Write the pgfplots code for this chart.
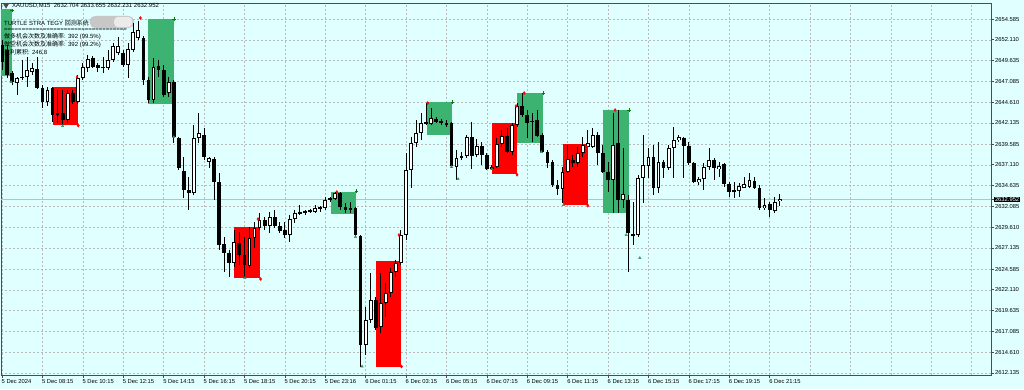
\documentclass[border=0pt]{standalone}
\usepackage{fontspec}
\setmainfont{Liberation Sans}
\newfontfamily\cjk{Noto Sans CJK SC}
\usepackage{pgfplots}
\pgfplotsset{compat=1.18}
\usepackage{pgfplotstable}
\definecolor{bg}{RGB}{224,255,255}
\definecolor{boxgreen}{RGB}{60,179,113}
\definecolor{boxred}{RGB}{255,0,0}
\definecolor{gridc}{RGB}{185,185,185}
\newcommand\tf{\fontsize{6}{7}\selectfont}
\newcommand\lf{\fontsize{5.8}{7}\selectfont}

\pgfplotstableread{
i O H L C
0 2651.48 2652.08 2648.48 2649.44
1 2650.88 2651.48 2647.52 2647.88
2 2648.12 2648.36 2646.68 2647.04
3 2646.92 2647.64 2645.48 2647.52
4 2647.64 2649.68 2647.28 2647.60
5 2647.64 2650.04 2646.44 2648.48
6 2648.24 2649.32 2647.88 2648.72
7 2648.60 2650.04 2646.20 2646.32
8 2646.32 2646.68 2643.92 2644.64
9 2644.64 2646.44 2644.16 2646.08
10 2646.32 2646.44 2642.24 2643.08
11 2643.32 2646.08 2642.12 2643.08
12 2643.32 2646.08 2641.88 2642.48
13 2642.48 2646.08 2642.12 2645.72
14 2645.72 2646.08 2644.40 2644.64
15 2644.64 2647.88 2644.40 2647.52
16 2647.52 2649.32 2647.28 2648.84
17 2648.72 2650.28 2648.24 2649.80
18 2649.92 2650.16 2648.72 2648.84
19 2649.08 2649.32 2648.24 2648.72
20 2648.84 2650.04 2648.12 2648.80
21 2648.72 2650.88 2648.48 2649.68
22 2649.68 2651.72 2649.44 2651.36
23 2650.52 2652.44 2650.28 2651.36
24 2650.52 2650.88 2648.84 2649.08
25 2649.08 2651.72 2647.52 2651.00
26 2650.88 2654.12 2650.64 2653.04
27 2652.32 2654.36 2652.08 2653.28
28 2652.32 2652.56 2646.68 2647.28
29 2647.28 2647.64 2644.52 2644.88
30 2644.88 2649.92 2644.52 2648.84
31 2648.96 2649.68 2647.64 2648.48
32 2648.48 2649.08 2645.24 2645.48
33 2645.72 2647.64 2645.24 2647.04
34 2647.04 2647.28 2639.72 2640.44
35 2640.32 2640.44 2636.48 2636.72
36 2636.36 2638.04 2633.12 2634.08
37 2634.08 2635.64 2631.68 2633.72
38 2633.72 2641.88 2633.48 2640.32
39 2640.32 2643.32 2639.72 2640.92
40 2640.68 2641.52 2637.68 2638.04
41 2637.44 2638.04 2636.72 2637.92
42 2637.80 2638.04 2632.88 2635.04
43 2635.04 2636.12 2626.88 2627.48
44 2627.60 2628.44 2624.24 2626.52
45 2626.52 2626.88 2623.64 2625.32
46 2625.32 2629.28 2624.84 2627.84
47 2627.72 2629.04 2625.08 2626.28
48 2626.28 2628.44 2623.64 2625.08
49 2624.96 2629.64 2624.72 2628.32
50 2628.32 2630.24 2627.12 2629.52
51 2629.52 2631.32 2629.28 2630.48
52 2630.48 2630.84 2629.28 2629.76
53 2629.76 2631.44 2628.92 2630.84
54 2630.84 2631.68 2629.52 2629.76
55 2629.76 2630.24 2628.92 2629.16
56 2629.28 2630.24 2628.32 2628.68
57 2628.68 2631.08 2627.84 2630.60
58 2630.60 2631.68 2630.12 2631.32
59 2631.32 2632.28 2631.08 2631.36
60 2631.44 2631.68 2631.08 2631.48
61 2631.56 2631.80 2631.32 2631.60
62 2631.44 2632.28 2631.32 2631.92
63 2632.04 2632.16 2631.44 2631.92
64 2631.92 2633.24 2631.68 2632.88
65 2633.00 2633.24 2632.64 2633.04
66 2633.00 2633.84 2632.88 2633.72
67 2633.72 2633.84 2631.68 2632.04
68 2632.04 2632.52 2631.32 2631.68
69 2631.68 2632.64 2631.32 2631.92
70 2631.92 2632.04 2628.44 2628.68
71 2628.56 2628.68 2612.84 2615.48
72 2615.48 2620.04 2614.28 2618.48
73 2618.48 2624.12 2618.12 2620.88
74 2620.88 2621.24 2617.28 2617.52
75 2617.64 2624.12 2616.92 2620.52
76 2620.52 2622.92 2618.84 2621.72
77 2621.72 2624.72 2621.24 2624.24
78 2624.24 2625.68 2623.64 2625.32
79 2625.32 2629.28 2625.08 2628.68
80 2628.68 2638.52 2628.08 2636.48
81 2636.48 2640.44 2634.32 2639.72
82 2639.72 2642.48 2639.24 2640.92
83 2640.92 2643.32 2640.08 2642.12
84 2642.12 2644.52 2641.88 2642.16
85 2642.00 2643.92 2641.88 2642.72
86 2642.60 2642.84 2642.12 2642.24
87 2642.36 2642.60 2641.88 2642.12
88 2642.12 2642.48 2641.64 2641.88
89 2642.12 2642.24 2636.72 2636.96
90 2636.84 2638.88 2635.28 2637.92
91 2637.92 2638.64 2637.68 2638.16
92 2638.16 2640.68 2637.92 2640.44
93 2640.44 2642.24 2636.60 2638.16
94 2638.28 2640.20 2638.04 2639.36
95 2639.36 2639.84 2637.08 2638.28
96 2638.28 2638.52 2636.48 2636.60
97 2636.60 2637.08 2636.48 2636.84
98 2636.84 2640.32 2636.72 2639.60
99 2639.60 2641.28 2639.24 2640.56
100 2640.56 2641.52 2638.52 2638.64
101 2638.64 2642.12 2638.28 2641.88
102 2641.88 2644.52 2641.64 2644.16
103 2644.16 2645.72 2642.84 2643.08
104 2643.08 2643.68 2640.32 2642.12
105 2642.36 2643.32 2639.84 2642.32
106 2642.48 2643.68 2640.44 2640.56
107 2640.68 2640.92 2638.52 2638.64
108 2638.64 2638.88 2636.72 2637.32
109 2637.44 2637.68 2634.44 2634.68
110 2634.68 2635.28 2633.48 2634.20
111 2634.20 2636.84 2632.52 2636.24
112 2636.24 2639.48 2636.12 2637.80
113 2637.68 2638.28 2636.84 2637.32
114 2637.32 2639.24 2636.84 2638.52
115 2638.52 2640.44 2638.04 2639.48
116 2639.24 2641.28 2639.12 2639.72
117 2639.24 2641.52 2639.12 2640.68
118 2640.68 2641.04 2637.08 2638.52
119 2638.52 2639.48 2636.12 2636.24
120 2636.24 2637.44 2633.84 2635.28
121 2635.28 2643.32 2631.32 2639.48
122 2639.72 2643.68 2631.32 2632.88
123 2632.88 2639.12 2631.92 2633.60
124 2632.88 2633.48 2624.24 2628.92
125 2628.68 2632.64 2627.48 2628.72
126 2628.68 2635.88 2628.44 2635.52
127 2635.52 2640.68 2632.52 2637.08
128 2636.96 2639.12 2635.52 2638.04
129 2638.04 2639.48 2633.48 2634.32
130 2634.32 2639.84 2633.72 2637.44
131 2637.44 2637.68 2635.52 2636.72
132 2636.72 2639.48 2636.48 2639.12
133 2639.12 2641.64 2635.52 2640.08
134 2640.08 2640.68 2639.84 2640.44
135 2640.32 2640.44 2635.52 2639.36
136 2639.36 2639.84 2637.08 2637.32
137 2637.32 2637.44 2634.92 2635.04
138 2635.04 2635.64 2634.68 2635.40
139 2635.40 2637.32 2634.08 2636.84
140 2636.84 2639.12 2636.48 2637.68
141 2637.68 2637.92 2635.28 2636.72
142 2636.60 2637.44 2635.64 2636.96
143 2637.20 2637.32 2634.44 2634.80
144 2634.80 2635.04 2633.24 2633.84
145 2633.96 2635.04 2633.12 2634.00
146 2633.96 2634.92 2633.24 2634.56
147 2634.32 2635.64 2634.32 2634.80
148 2634.44 2636.12 2634.32 2635.28
149 2635.16 2635.64 2634.20 2634.32
150 2634.32 2634.68 2631.68 2631.92
151 2631.92 2633.12 2631.68 2632.28
152 2632.40 2632.64 2630.84 2631.68
153 2631.56 2633.24 2631.32 2632.64
154 2632.704 2633.655 2632.231 2632.952
}\candles

\begin{document}
\begin{tikzpicture}
\fill[bg] (0,0) rectangle (1024pt,389pt);
\useasboundingbox (0,0) rectangle (1024pt,389pt);
\begin{axis}[
  at={(1pt,14pt)}, anchor=south west,
  scale only axis, width=990pt, height=372pt,
  xmin=-0.2, xmax=195.84, ymin=2611.88, ymax=2656.52,
  axis line style={draw=black!70, line width=0.7pt},
  xtick={0,8,...,152},
  xticklabels={5 Dec 2024,5 Dec 08:15,5 Dec 10:15,5 Dec 12:15,5 Dec 14:15,5 Dec 16:15,5 Dec 18:15,5 Dec 20:15,5 Dec 23:16,6 Dec 01:15,6 Dec 03:15,6 Dec 05:15,6 Dec 07:15,6 Dec 09:15,6 Dec 11:15,6 Dec 13:15,6 Dec 15:15,6 Dec 17:15,6 Dec 19:15,6 Dec 21:15},
  extra x ticks={160,168,176,184,192},
  extra x tick labels={},
  extra x tick style={major tick length=0pt, grid=major},
  ytick={2612.135,2614.610,2617.085,2619.635,2622.110,2624.585,2627.135,2629.610,2632.085,2634.635,2637.110,2639.585,2642.135,2644.610,2647.085,2649.635,2652.110,2654.585},
  yticklabels={2612.135,2614.610,2617.085,2619.635,2622.110,2624.585,2627.135,2629.610,2632.085,2634.635,2637.110,2639.585,2642.135,2644.610,2647.085,2649.635,2652.110,2654.585},
  extra y ticks={2632.952}, extra y tick labels={2632.952},
  extra y tick style={grid=none, yticklabel style={fill=black, text=white, inner sep=0.8pt}},
  xtick pos=left, ytick pos=right, yticklabel pos=right,
  tick align=outside, major tick length=3pt,
  tick style={black!70, line width=0.6pt},
  grid=major,
  major grid style={gridc, dash pattern=on 2pt off 2pt, line width=0.5pt},
  xticklabel style={font=\lf, anchor=north west, xshift=-1.5pt, inner sep=1pt},
  yticklabel style={font=\lf, anchor=west, inner sep=1pt},
  clip mode=individual,
]
% current price line
\addplot[forget plot, black!25, line width=0.8pt] coordinates {(-1,2632.952) (200,2632.952)};
% trade boxes
\addplot[forget plot, fill=boxgreen, draw=none] coordinates {(-0.4,2655.80) (2.0,2655.80) (2.0,2647.76) (-0.4,2647.76)};
\addplot[forget plot, fill=boxred, draw=none] coordinates {(10.1,2646.44) (15.0,2646.44) (15.0,2641.88) (10.1,2641.88)};
\addplot[forget plot, fill=boxgreen, draw=none] coordinates {(28.9,2654.60) (34.1,2654.60) (34.1,2644.40) (28.9,2644.40)};
\addplot[forget plot, fill=boxred, draw=none] coordinates {(45.9,2629.64) (51.1,2629.64) (51.1,2623.52) (45.9,2623.52)};
\addplot[forget plot, fill=boxgreen, draw=none] coordinates {(65.1,2633.84) (70.1,2633.84) (70.1,2631.20) (65.1,2631.20)};
\addplot[forget plot, fill=boxred, draw=none] coordinates {(74.1,2625.56) (79.0,2625.56) (79.0,2612.84) (74.1,2612.84)};
\addplot[forget plot, fill=boxgreen, draw=none] coordinates {(84.2,2644.64) (89.1,2644.64) (89.1,2640.68) (84.2,2640.68)};
\addplot[forget plot, fill=boxred, draw=none] coordinates {(97.0,2642.12) (102.0,2642.12) (102.0,2636.00) (97.0,2636.00)};
\addplot[forget plot, fill=boxgreen, draw=none] coordinates {(102.0,2645.72) (107.2,2645.72) (107.2,2639.72) (102.0,2639.72)};
\addplot[forget plot, fill=boxred, draw=none] coordinates {(111.1,2639.60) (116.0,2639.60) (116.0,2632.28) (111.1,2632.28)};
\addplot[forget plot, fill=boxgreen, draw=none] coordinates {(119.0,2643.68) (124.2,2643.68) (124.2,2631.32) (119.0,2631.32)};
% header text
\fill[black!70] (axis cs:0.2,2656.45) -- (axis cs:1.4,2656.45) -- (axis cs:0.8,2655.85) -- cycle;
\node[anchor=west, inner sep=0, font=\tf] at (axis cs:1.98,2656.16) {XAUUSD,M15\ \ 2632.704 2633.655 2632.231 2632.952};
\node[anchor=west, inner sep=0, font=\tf] at (axis cs:0.40,2654.12) {TURTLE STRA TEGY {\cjk 回测系统}};
\fill[black!22, rounded corners=5pt] (axis cs:17.4,2654.96) rectangle (axis cs:26.1,2653.52);
\fill[black!8, rounded corners=4pt] (axis cs:22.2,2654.86) rectangle (axis cs:25.8,2653.62);
\node[anchor=west, inner sep=0, font=\tf] at (axis cs:0.40,2653.28) {===================================};
\node[anchor=west, inner sep=0, font=\tf] at (axis cs:0.40,2652.44) {{\cjk 做多机会次数及准确率}: 392 (99.5\%)};
\node[anchor=west, inner sep=0, font=\tf] at (axis cs:0.40,2651.54) {{\cjk 做空机会次数及准确率}: 392 (99.2\%)};
\node[anchor=west, inner sep=0, font=\tf] at (axis cs:0.40,2650.64) {{\cjk 盈利累积}: 246.8};
% wicks
\addplot[forget plot, draw=none, mark=none, error bars/.cd, y dir=both, y explicit, error mark=none,
  error bar style={draw=black, solid, line width=1pt}]
  table[x=i, y expr={(\thisrow{H}+\thisrow{L})/2}, y error expr={(\thisrow{H}-\thisrow{L})/2}] {\candles};
% bodies (outline / bearish fill)
\addplot[forget plot, draw=none, mark=none, error bars/.cd, y dir=both, y explicit, error mark=none,
  error bar style={draw=black, solid, line width=3.8pt}]
  table[x=i, y expr={(\thisrow{O}+\thisrow{C})/2}, y error expr={max(abs(\thisrow{C}-\thisrow{O})/2,0.06)}] {\candles};
% bullish white inside
\addplot[forget plot, draw=none, mark=none, error bars/.cd, y dir=both, y explicit, error mark=none,
  error bar style={draw=white, solid, line width=1.8pt}]
  table[x=i, y expr={(\thisrow{O}+\thisrow{C})/2}, y error expr={(\thisrow{C}>\thisrow{O})*max((\thisrow{C}-\thisrow{O})/2-0.12,0)}] {\candles};
% trade markers
\addplot[forget plot, only marks, mark=diamond*, mark size=1.5pt, red] coordinates {(14.85,2647.64) (27.4,2654.72) (50.7,2630.60) (66.3,2633.84) (78.6,2628.68) (84.3,2644.52) (101.8,2644.16) (103.4,2645.72) (115.8,2639.24) (121.4,2643.68) (15.1,2641.8) (51.2,2623.4) (79.1,2612.9) (102,2635.9) (116,2632.2)};
\addplot[forget plot, only marks, mark=+, mark size=1.8pt, line width=0.9pt, green!50!black] coordinates {(2,2655.6) (34.1,2654.6) (70.2,2633.96) (89.2,2644.64) (107.2,2645.72) (124.2,2643.68)};
\addplot[forget plot, only marks, mark=triangle*, mark size=1.4pt, boxgreen!80!black] coordinates {(1.8,2647.04) (34,2640.44) (70,2628.44) (89,2636.84) (106.8,2638.64) (123.6,2628.68) (12,2641.76) (48.1,2623.52) (71.3,2612.9) (90.3,2635.4) (97,2636.6) (111.2,2632.28) (126.3,2625.92)};
\end{axis}
\end{tikzpicture}
\end{document}
